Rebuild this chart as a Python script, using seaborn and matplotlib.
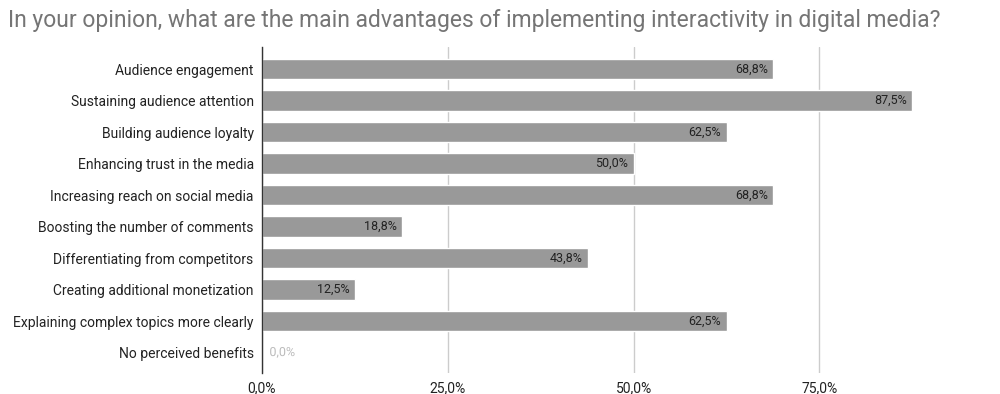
import matplotlib
matplotlib.use("Agg")
import matplotlib.pyplot as plt
import seaborn as sns
import pandas as pd
import matplotlib.patheffects as pe

categories = [
    "Audience engagement",
    "Sustaining audience attention",
    "Building audience loyalty",
    "Enhancing trust in the media",
    "Increasing reach on social media",
    "Boosting the number of comments",
    "Differentiating from competitors",
    "Creating additional monetization",
    "Explaining complex topics more clearly",
    "No perceived benefits",
]
values = [68.8, 87.5, 62.5, 50.0, 68.8, 18.8, 43.8, 12.5, 62.5, 0.0]
xticks = [0, 25, 50, 75]
title = "In your opinion, what are the main advantages of implementing interactivity in digital media?"

sns.set_theme(style="white")
plt.rcParams["font.family"] = ["Roboto", "DejaVu Sans"]

df = pd.DataFrame({"cat": categories, "val": values})

fig = plt.figure(figsize=(10, 3.94), dpi=100)
top_px, bot_px = 47, 373
ax = fig.add_axes([0.262, 1 - bot_px / 394, 1.0 - 0.262, (bot_px - top_px) / 394])

sns.barplot(data=df, x="val", y="cat", color="#999999", saturation=1, width=0.64, ax=ax, zorder=3)

ax.set_xlim(0, 99.3)
ax.set_ylim(len(categories) - 0.35, -0.7)
ax.set_xticks(xticks)
ax.set_xticklabels([f"{t:.1f}%".replace(".", ",") for t in xticks], fontsize=10, color="#222222")
ax.tick_params(axis="x", length=0, pad=6)
ax.tick_params(axis="y", length=0, pad=6, labelsize=10, labelcolor="#222222")
ax.set_xlabel("")
ax.set_ylabel("")
ax.grid(axis="x", color="#cccccc", linewidth=1, zorder=0)
for s in ["top", "right", "bottom"]:
    ax.spines[s].set_visible(False)
ax.spines["left"].set_color("#333333")
ax.spines["left"].set_linewidth(1)
ax.spines["left"].set_zorder(4)

for i, v in enumerate(values):
    lab = f"{v:.1f}%".replace(".", ",")
    if v > 5:
        ax.text(v - 0.7, i, lab, ha="right", va="center", fontsize=9, color="#222222", zorder=5)
    else:
        ax.text(v + 1.0, i, lab, ha="left", va="center", fontsize=9, color="#bbbbbb", zorder=5,
                path_effects=[pe.withStroke(linewidth=2, foreground="white")])

fig.text(0.008, 1 - 20 / 394, title, ha="left", va="center", fontsize=16.5, color="#757575")

fig.savefig("out.png", dpi=100)
